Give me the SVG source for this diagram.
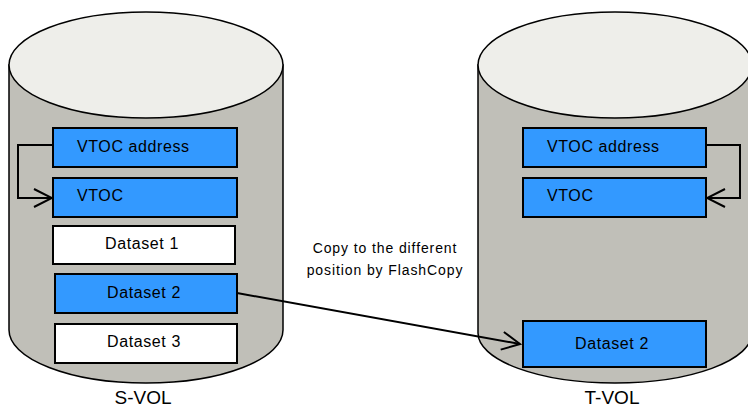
<svg xmlns="http://www.w3.org/2000/svg" width="748" height="409" viewBox="0 0 748 409">
<defs>
<style>
.body{fill:#C0BFB8;stroke:#000;stroke-width:1.5}
.top{fill:#EEEEEA;stroke:#000;stroke-width:1.5}
.blue{fill:#3399FF;stroke:#000;stroke-width:2}
.white{fill:#FFFFFF;stroke:#000;stroke-width:2}
.t{font-family:"Liberation Sans",Arial,sans-serif;font-size:16px;letter-spacing:0.6px;fill:#000}
.c{font-family:"Liberation Sans",Arial,sans-serif;font-size:14px;letter-spacing:0.9px;fill:#000;text-anchor:middle}
.lbl{font-family:"Liberation Sans",Arial,sans-serif;font-size:19px;fill:#000;text-anchor:middle}
.conn{fill:none;stroke:#000;stroke-width:2}
</style>
<marker id="arr" markerWidth="22" markerHeight="22" refX="20" refY="11" orient="auto" markerUnits="userSpaceOnUse">
<path d="M2,2 L20,11 L2,20" fill="none" stroke="#000" stroke-width="2"/>
</marker>
</defs>
<g id="s-vol">
<path class="body" d="M9,65 L9,330 A137,53 0 0 0 283,330 L283,65 Z"/>
<ellipse class="top" cx="146" cy="65" rx="137" ry="53"/>
<text class="lbl" x="143" y="404">S-VOL</text>
</g>
<g id="t-vol">
<path class="body" d="M478,65 L478,333 A137,50 0 0 0 752,333 L752,65 Z"/>
<ellipse class="top" cx="615" cy="65" rx="137" ry="53"/>
<text class="lbl" x="612" y="404">T-VOL</text>
</g>
<g id="s-vtoc-address">
<rect class="blue" x="53" y="128" width="184" height="39"/>
<text class="t" x="77" y="152">VTOC address</text>
</g>
<g id="s-vtoc">
<rect class="blue" x="53" y="178" width="184" height="39"/>
<text class="t" x="77" y="201">VTOC</text>
</g>
<g id="s-dataset1">
<rect class="white" x="53" y="226" width="182" height="38"/>
<text class="t" x="142" y="249" text-anchor="middle">Dataset 1</text>
</g>
<g id="s-dataset2">
<rect class="blue" x="55" y="274" width="182" height="39"/>
<text class="t" x="144" y="298" text-anchor="middle">Dataset 2</text>
</g>
<g id="s-dataset3">
<rect class="white" x="55" y="324" width="182" height="39"/>
<text class="t" x="144" y="347" text-anchor="middle">Dataset 3</text>
</g>
<g id="t-vtoc-address">
<rect class="blue" x="523" y="128" width="183" height="39"/>
<text class="t" x="547" y="152">VTOC address</text>
</g>
<g id="t-vtoc">
<rect class="blue" x="523" y="178" width="183" height="39"/>
<text class="t" x="547" y="201">VTOC</text>
</g>
<g id="t-dataset2">
<rect class="blue" x="523" y="321" width="183" height="46"/>
<text class="t" x="612" y="349" text-anchor="middle">Dataset 2</text>
</g>
<g id="copy-label">
<text class="c" x="385" y="253">Copy to the different</text>
<text class="c" x="385" y="275">position by FlashCopy</text>
</g>
<g id="connectors">
<path class="conn" d="M53,145 L18,145 L18,198 L52,198" marker-end="url(#arr)"/>
<path class="conn" d="M706,145 L740,145 L740,198 L707,198" marker-end="url(#arr)"/>
<path class="conn" d="M237,293 L520,344" marker-end="url(#arr)"/>
</g>
</svg>
